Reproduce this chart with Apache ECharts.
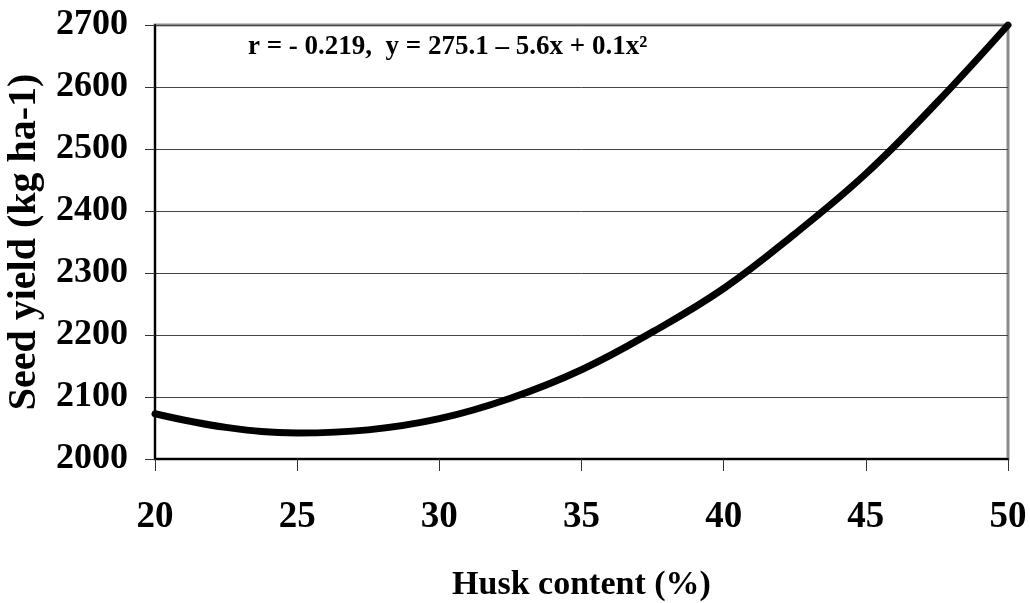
<!DOCTYPE html>
<html>
<head>
<meta charset="utf-8">
<script src="https://cdn.jsdelivr.net/npm/echarts@6/dist/echarts.min.js"></script>
<style>
html,body{margin:0;padding:0;background:#fff;}
#chart{width:1030px;height:603px;}
</style>
</head>
<body>
<div id="chart"></div>
<script>
// Husk content (%) values
const huskContent = [20, 22.5, 25, 27.5, 30, 32.5, 35, 37.5, 40, 42.5, 45, 47.5, 50];
// Seed yield (kg ha-1)
const seedYield = [2073, 2051, 2042, 2047, 2065, 2098, 2144, 2205, 2275, 2363, 2460, 2575, 2700];
const xTicks = {min: 20, max: 50, interval: 5};
const yTicks = {min: 2000, max: 2700, interval: 100};
const xTitle = 'Husk content (%)';
const yTitle = 'Seed yield (kg ha-1)';
const annotation = 'r = - 0.219,  y = 275.1 \u2013 5.6x + 0.1x\u00B2';

const FONT = "'Liberation Serif', 'Times New Roman', serif";
const chart = echarts.init(document.getElementById('chart'));
chart.setOption({
  animation: false,
  backgroundColor: '#fff',
  grid: {left: 155, right: 22, top: 25, bottom: 144, containLabel: false, outerBoundsMode: 'none',
    show: true, borderColor: '#8c8c8c', borderWidth: 3, backgroundColor: 'transparent'},
  xAxis: {
    type: 'value', min: xTicks.min, max: xTicks.max, interval: xTicks.interval,
    name: xTitle, nameLocation: 'middle', nameGap: 109,
    nameTextStyle: {fontFamily: FONT, fontWeight: 'bold', fontSize: 34, color: '#000'},
    axisLine: {show: true, onZero: false, lineStyle: {color: '#000', width: 2}},
    axisTick: {show: true, inside: false, length: 12, lineStyle: {color: '#333', width: 1}},
    axisLabel: {margin: 40, fontFamily: FONT, fontWeight: 'bold', fontSize: 37, color: '#000',
      formatter: v => String(v)},
    splitLine: {show: false}
  },
  yAxis: {
    type: 'value', min: yTicks.min, max: yTicks.max, interval: yTicks.interval,
    name: yTitle, nameLocation: 'middle', nameGap: 104, nameRotate: 90,
    nameTextStyle: {fontFamily: FONT, fontWeight: 'bold', fontSize: 40, color: '#000'},
    axisLine: {show: true, lineStyle: {color: '#000', width: 2}},
    axisTick: {show: true, inside: false, length: 10, lineStyle: {color: '#333', width: 1}},
    axisLabel: {margin: 27, fontFamily: FONT, fontWeight: 'bold', fontSize: 36, color: '#000',
      formatter: v => String(v)},
    splitLine: {show: true, lineStyle: {color: '#444', width: 1}}
  },
  graphic: [{
    type: 'text', left: 248, top: 34,
    style: {text: annotation, font: "bold 27px " + FONT, fill: '#000'}
  }],
  series: [{
    type: 'line',
    data: huskContent.map((x, i) => [x, seedYield[i]]),
    smooth: 0.4,
    showSymbol: false,
    lineStyle: {color: '#000', width: 7, cap: 'round'},
    z: 5
  }]
});
</script>
</body>
</html>
